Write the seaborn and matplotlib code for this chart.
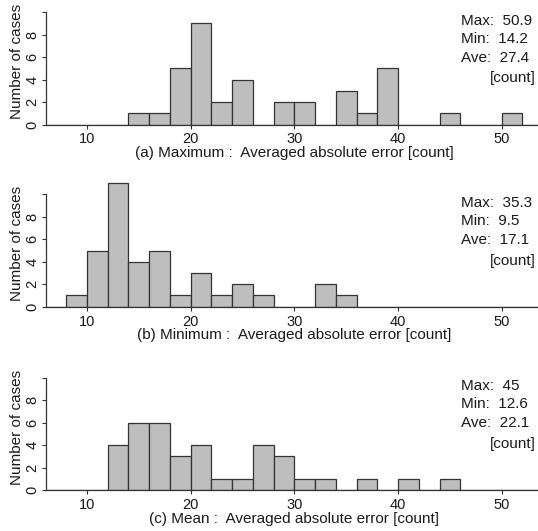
import matplotlib
matplotlib.use("Agg")
import matplotlib.pyplot as plt
import seaborn as sns
import numpy as np
import pandas as pd

sns.set_style("ticks")
plt.rcParams["font.family"] = ["Liberation Sans", "DejaVu Sans"]

# histogram bins: left edges (width 2) and counts per panel
max_bins = [14, 16, 18, 20, 22, 24, 28, 30, 34, 36, 38, 44, 50]
max_counts = [1, 1, 5, 9, 2, 4, 2, 2, 3, 1, 5, 1, 1]

min_bins = [8, 10, 12, 14, 16, 18, 20, 22, 24, 26, 32, 34]
min_counts = [1, 5, 11, 4, 5, 1, 3, 1, 2, 1, 2, 1]

mean_bins = [12, 14, 16, 18, 20, 22, 24, 26, 28, 30, 32, 36, 40, 44]
mean_counts = [4, 6, 6, 3, 4, 1, 1, 4, 3, 1, 1, 1, 1, 1]

panel_titles = [
    "(a) Maximum :  Averaged absolute error [count]",
    "(b) Minimum :  Averaged absolute error [count]",
    "(c) Mean :  Averaged absolute error [count]",
]
stat_max = ["50.9", "35.3", "45"]
stat_min = ["14.2", "9.5", "12.6"]
stat_ave = ["27.4", "17.1", "22.1"]

x_ticks = [10, 20, 30, 40, 50]
y_ticks = [0, 2, 4, 6, 8, 10]
y_ticklabels = ["0", "2", "4", "6", "8", ""]

panels = [(max_bins, max_counts), (min_bins, min_counts), (mean_bins, mean_counts)]

W, H = 538, 531
fig = plt.figure(figsize=(W / 100, H / 100), dpi=100)

text_color = "#1a1a1a"
line_color = "#333333"
zero_rows = [124.5, 306.7, 490]   # pixel row of y=0 for each panel
ax_h = 126.9

for i, (bins, counts) in enumerate(panels):
    ax = fig.add_axes([45.5 / W, (H - zero_rows[i]) / H, 492.5 / W, ax_h / H])
    df = pd.DataFrame({"value": np.array(bins) + 1.0, "count": counts})
    sns.histplot(data=df, x="value", weights="count", binwidth=2, binrange=(6, 54), ax=ax,
                 color="#bebebe", edgecolor=line_color, linewidth=0.9, alpha=1)
    ax.set_xlim(6, 53.5)
    ax.set_ylim(0, 11.3)
    sns.despine(ax=ax)
    ax.spines["left"].set_bounds(0, 10)
    for s in ["left", "bottom"]:
        ax.spines[s].set_color(line_color)
        ax.spines[s].set_linewidth(0.9)

    ax.set_xticks(x_ticks)
    ax.set_yticks(y_ticks)
    ax.set_yticklabels(y_ticklabels, rotation=90, va="center")
    ax.tick_params(axis="both", length=3.2, width=0.8, color=line_color,
                   labelsize=10.5, labelcolor=text_color)
    ax.tick_params(axis="x", pad=2.5)
    ax.tick_params(axis="y", pad=1.0)

    ax.set_xlabel(panel_titles[i], fontsize=11, color=text_color)
    ax.xaxis.label.set_va("baseline")
    ax.xaxis.set_label_coords(0.505, -32.5 / ax_h)
    ax.set_ylabel("Number of cases", fontsize=11, color=text_color)
    ax.yaxis.set_label_coords(-21 / 492, 5.6 / 11.3)

    ax.text(46.1, 9.24, "Max:  " + stat_max[i], fontsize=11, color=text_color, va="center")
    ax.text(46.1, 7.64, "Min:  " + stat_min[i], fontsize=11, color=text_color, va="center")
    ax.text(46.1, 5.94, "Ave:  " + stat_ave[i], fontsize=11, color=text_color, va="center")
    ax.text(48.9, 4.1, "[count]", fontsize=11, color=text_color, va="center")

fig.savefig("out.png", dpi=100)
